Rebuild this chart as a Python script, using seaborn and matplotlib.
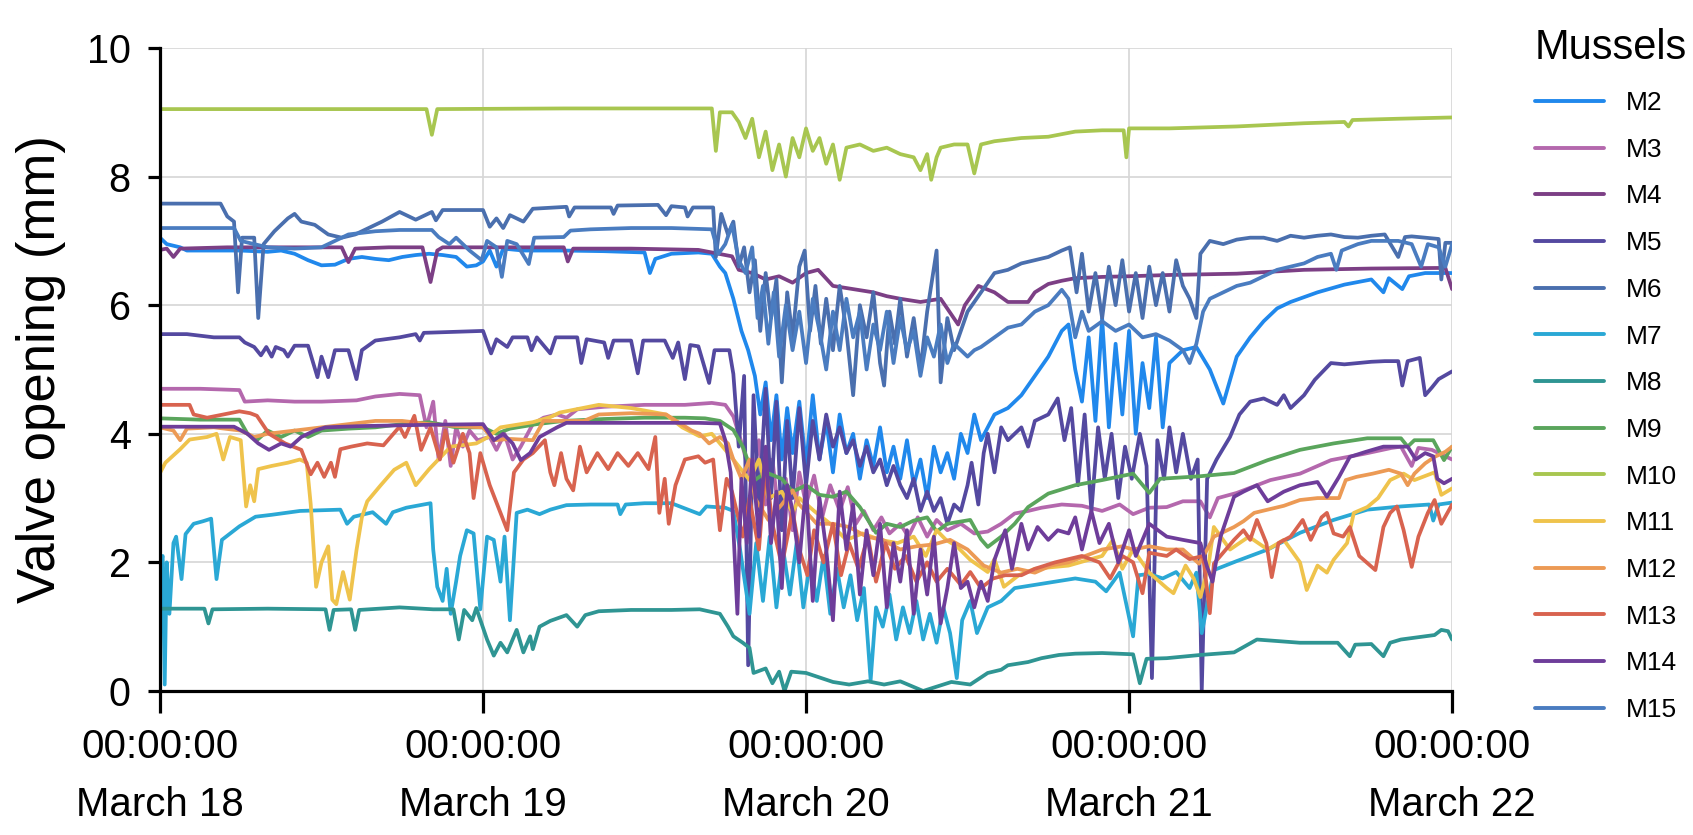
import matplotlib
matplotlib.use("Agg")
import matplotlib.pyplot as plt
import pandas as pd
import seaborn as sns

# ---------------- data (hour since March 18 00:00, valve opening mm) ----------------
MUSSELS = ["M2", "M3", "M4", "M5", "M6", "M7", "M8", "M9", "M10", "M11", "M12", "M13", "M14", "M15"]
COLORS = ["#2088ec", "#b468ad", "#7c3f85", "#5449a0", "#4a6fae", "#2aa8d5", "#2f9593", "#5aa55c",
          "#a8c650", "#efc34c", "#ec9a55", "#d8634f", "#6e3d9a", "#4a7cc0"]

TICK_HOURS = [0, 24, 48, 72, 96]
TICK_LABELS = ["00:00:00\nMarch 18", "00:00:00\nMarch 19", "00:00:00\nMarch 20",
               "00:00:00\nMarch 21", "00:00:00\nMarch 22"]
Y_TICKS = [0, 2, 4, 6, 8, 10]

M2 = [(0,7.05),(0.5,6.95),(1.5,6.9),(2,6.85),(4,6.85),(6,6.85),(8,6.83),(9,6.85),(10,6.8),(11,6.7),(12,6.62),(13,6.63),(14,6.72),(15,6.75),(16,6.72),(17,6.7),(18,6.75),(19,6.78),(20,6.8),(21,6.78),(22,6.75),(22.8,6.6),(23.5,6.62),(24,6.68),(24.5,6.85),(25,6.6),(25.5,6.88),(27,6.85),(30,6.85),(33,6.84),(36,6.82),(36.4,6.5),(36.8,6.72),(38,6.8),(40,6.82),(41,6.8),(41.6,6.6),(42,6.5),(42.6,6.1),(43.2,5.6),(43.7,5.3),(44.2,4.9),(44.6,4.3),(45,4.8),(45.4,3.9),(45.8,4.6),(46.2,3.6),(46.6,4.4),(47,3.7),(47.5,4.5),(48,3.5),(48.5,4.6),(49,3.6),(49.5,4.2),(50,3.4),(50.5,4.3),(51,3.7),(51.5,4.0),(52,3.3),(52.5,3.9),(53,3.5),(53.5,4.1),(54,3.4),(54.5,3.8),(55,3.3),(55.5,3.9),(56,3.2),(56.5,3.6),(57,3.0),(57.5,3.8),(58,3.4),(58.5,3.7),(59,3.3),(59.5,4.0),(60,3.7),(60.5,4.3),(61,3.9),(62,4.3),(63,4.4),(64,4.6),(65,4.9),(66,5.2),(67,5.6),(67.5,5.7),(68,5.0),(68.5,4.5),(69,5.5),(69.5,4.2),(70,5.8),(70.5,4.1),(71,5.4),(71.5,4.3),(72,5.6),(72.5,4.0),(73,5.1),(73.5,4.4),(74,5.5),(74.5,4.1),(75,5.1),(76,5.3),(77,5.35),(78,5.0),(79,4.47),(80,5.2),(81,5.5),(82,5.75),(83,5.95),(84,6.05),(86,6.2),(88,6.32),(90,6.4),(90.9,6.2),(91.3,6.42),(92.3,6.25),(92.8,6.45),(94,6.5),(96,6.5)]

M3 = [(0,4.7),(3,4.7),(5.9,4.68),(6.3,4.5),(8,4.52),(10,4.5),(12,4.5),(14.6,4.52),(16,4.58),(17.8,4.62),(19.3,4.6),(19.8,4.1),(20.3,4.5),(20.7,3.6),(21.2,4.2),(21.6,3.5),(22,4.1),(22.5,3.8),(23,4.05),(23.6,3.9),(24.5,3.95),(25,3.75),(25.6,4.0),(26.2,3.6),(26.8,3.8),(27.7,4.15),(28.5,4.25),(29.5,4.3),(30.2,4.25),(31,4.38),(33,4.42),(36,4.45),(39,4.45),(41,4.48),(42,4.45),(42.6,4.27),(43.3,3.8),(44,3.2),(44.5,3.9),(45,2.9),(45.5,3.6),(46,2.7),(46.5,3.3),(47,2.5),(47.5,3.4),(48,2.9),(48.6,3.35),(49.2,2.7),(49.8,3.2),(50.5,2.8),(51.1,3.17),(51.7,2.6),(52.3,2.8),(53,2.5),(53.6,2.7),(54.2,2.45),(55,2.6),(55.6,2.4),(56.3,2.7),(57,2.4),(57.7,2.66),(58.5,2.5),(59.5,2.6),(60.5,2.45),(61.5,2.48),(62.5,2.6),(63.5,2.76),(64.5,2.8),(65.5,2.85),(67,2.9),(68.5,2.88),(70,2.8),(71.3,2.9),(72.3,2.75),(73.5,2.85),(74.8,2.86),(76,2.95),(77.3,2.95),(78,2.7),(78.6,3.0),(80,3.08),(81.5,3.2),(82.5,3.28),(84.7,3.38),(87,3.59),(89.5,3.69),(91.5,3.78),(92.2,3.8),(93,3.5),(93.5,3.78),(94.5,3.75),(95.5,3.65),(96,3.6)]

M4 = [(0,6.86),(0.5,6.88),(1,6.75),(1.5,6.88),(5,6.9),(10,6.9),(13.5,6.9),(14,6.67),(14.5,6.88),(17,6.9),(19.5,6.9),(20.1,6.36),(20.6,6.85),(21,6.9),(25,6.9),(30,6.9),(30.3,6.68),(30.7,6.88),(35,6.88),(40,6.86),(41.5,6.8),(42.5,6.76),(43,6.55),(44,6.5),(45,6.4),(46,6.45),(47,6.35),(48,6.5),(48.9,6.55),(50,6.3),(51.5,6.25),(53,6.2),(54,6.14),(55,6.1),(56.5,6.05),(58,6.1),(59.3,5.7),(59.8,6.0),(60.8,6.3),(62,6.2),(63,6.05),(64.5,6.05),(65,6.2),(66,6.33),(67,6.38),(68,6.42),(70,6.44),(72,6.45),(75,6.47),(80,6.49),(85,6.55),(90,6.57),(95.5,6.58),(96,6.25)]

M5 = [(0,5.55),(2,5.55),(4,5.5),(5.9,5.5),(6.3,5.42),(7,5.35),(7.5,5.22),(7.9,5.35),(8.3,5.2),(8.6,5.35),(9.2,5.3),(9.5,5.2),(10,5.37),(11,5.37),(11.7,4.88),(12,5.2),(12.5,4.88),(13,5.3),(14,5.3),(14.6,4.85),(15,5.3),(16,5.45),(17.8,5.5),(19,5.55),(19.3,5.45),(19.6,5.57),(24,5.6),(24.6,5.25),(25,5.47),(25.8,5.35),(26.2,5.5),(27.3,5.5),(27.6,5.3),(28,5.5),(29,5.25),(29.4,5.5),(31,5.5),(31.3,5.1),(31.7,5.47),(33,5.42),(33.3,5.18),(33.7,5.45),(35,5.45),(35.5,4.94),(35.9,5.45),(37.5,5.45),(38.1,5.18),(38.5,5.42),(39,4.85),(39.4,5.38),(40,5.36),(40.8,4.79),(41.2,5.3),(42.3,5.3),(42.6,4.93),(43,3.8),(43.4,4.9),(43.7,0.4),(44.1,4.6),(44.5,2.8),(45,4.7),(45.4,3.0),(45.8,4.5),(46.2,2.5),(46.6,4.2),(47,3.0),(47.5,4.4),(48,3.2),(48.5,4.2),(49,3.6),(49.5,4.3),(50,3.8),(50.5,4.1),(51,3.7),(51.5,3.9),(52,3.5),(52.5,3.8),(53,3.4),(53.5,3.6),(54,3.2),(54.5,3.5),(55,3.2),(55.5,3.0),(56,3.3),(56.5,2.8),(57,3.1),(57.5,2.8),(58,3.0),(58.5,2.6),(59,2.9),(59.5,2.8),(60,3.2),(60.3,3.55),(60.8,2.9),(61.2,3.7),(61.5,4.0),(62,3.4),(62.5,4.1),(63,3.9),(64,4.1),(64.5,3.8),(65,4.2),(66,4.3),(66.7,4.55),(67.2,3.9),(67.7,4.4),(68.2,3.2),(68.7,4.3),(69.2,2.8),(69.7,4.1),(70.2,3.3),(70.7,4.0),(71.2,3.0),(71.7,3.8),(72.2,3.3),(72.8,4.0),(73.3,3.5),(73.7,0.2),(74.1,3.9),(74.6,3.3),(75,4.1),(75.5,3.4),(76,4.0),(76.6,3.3),(77.1,3.6),(77.4,0.0),(77.8,3.3),(78.5,3.6),(79.5,3.95),(80.2,4.3),(81,4.5),(82,4.55),(83,4.45),(83.5,4.6),(84,4.4),(85,4.6),(85.8,4.84),(87,5.1),(88,5.08),(89,5.1),(90,5.12),(91,5.13),(92,5.13),(92.3,4.75),(92.7,5.13),(93.6,5.18),(94,4.6),(94.5,4.72),(95,4.85),(96,4.97)]

M6 = [(0,7.58),(4.5,7.58),(5,7.38),(5.5,7.3),(5.8,6.2),(6.1,7.05),(7,7.05),(7.3,5.8),(7.7,6.95),(8.5,7.15),(9.5,7.35),(10,7.42),(10.5,7.3),(11.5,7.25),(12.5,7.1),(13.5,7.05),(14.5,7.1),(15.5,7.2),(16.5,7.3),(17.8,7.45),(19,7.33),(20.2,7.45),(20.5,7.32),(21,7.48),(24,7.48),(24.5,7.22),(25,7.35),(25.5,7.2),(26,7.4),(27,7.3),(27.7,7.5),(30.2,7.53),(30.4,7.38),(30.8,7.52),(33.5,7.52),(33.7,7.42),(34,7.55),(37,7.56),(37.6,7.4),(38,7.54),(39,7.52),(39.2,7.38),(39.6,7.52),(41.1,7.52),(41.3,6.75),(41.7,7.42),(42.2,7.1),(42.6,7.3),(43,6.6),(43.4,6.9),(43.8,6.2),(44.2,6.7),(44.6,5.6),(45,6.5),(45.4,5.8),(45.8,6.4),(46.2,4.8),(46.6,6.2),(47,5.5),(47.5,6.6),(47.9,6.85),(48.3,5.6),(48.7,6.3),(49.1,5.4),(49.5,6.1),(50,5.3),(50.5,6.3),(51,5.6),(51.5,4.6),(52,6.0),(52.5,5.5),(53,6.2),(53.5,5.1),(53.8,4.75),(54.2,5.9),(54.6,5.4),(55,6.1),(55.5,5.2),(56,5.8),(56.5,5.0),(57,5.9),(57.7,6.85),(58,4.8),(58.5,5.8),(59,5.3),(59.5,5.6),(60,5.9),(61,6.2),(62,6.5),(63,6.55),(64,6.65),(65,6.7),(66,6.75),(67,6.85),(67.6,6.9),(68.1,6.2),(68.5,6.8),(69,5.9),(69.5,6.5),(70,5.8),(70.5,6.6),(71,6.0),(71.5,6.7),(72,5.9),(72.5,6.5),(73,5.8),(73.5,6.6),(74,6.0),(74.5,6.5),(75,5.9),(75.5,6.7),(76,6.3),(76.5,6.1),(77,5.8),(77.3,6.8),(78,7.0),(79,6.95),(80,7.02),(81,7.05),(82,7.05),(83,7.0),(84,7.08),(85,7.05),(86,7.08),(87,7.1),(88,7.06),(89,7.05),(90,7.08),(91,7.1),(92,6.75),(92.5,7.06),(93,7.07),(94,7.05),(95,7.03),(95.2,6.4),(95.5,6.97),(96,6.97)]

M7 = [(0,2.0),(0.2,2.1),(0.35,0.1),(0.5,2.0),(0.7,1.2),(1,2.3),(1.2,2.4),(1.6,1.74),(1.9,2.44),(2.5,2.6),(3.2,2.64),(3.8,2.68),(4.2,1.74),(4.6,2.35),(5.9,2.56),(7.1,2.71),(8.3,2.74),(10.4,2.8),(13.4,2.82),(13.9,2.6),(14.4,2.71),(15.8,2.78),(16.8,2.6),(17.3,2.78),(18.3,2.85),(20.1,2.92),(20.3,2.2),(20.6,1.62),(21,1.4),(21.3,1.9),(21.6,1.2),(22,1.7),(22.3,2.1),(22.8,2.5),(23.3,2.45),(23.8,1.27),(24.3,2.4),(24.8,2.35),(25.3,1.7),(25.6,2.4),(26,1.1),(26.5,2.77),(27.3,2.82),(28.2,2.75),(29,2.82),(30.2,2.89),(32,2.9),(34,2.9),(34.2,2.75),(34.6,2.9),(36,2.92),(38,2.92),(40.1,2.75),(40.6,2.87),(42,2.85),(42.6,2.8),(43.1,2.2),(43.8,1.2),(44.3,2.3),(44.8,1.4),(45.3,2.4),(45.8,1.3),(46.3,2.2),(46.8,1.5),(47.3,2.3),(47.8,1.3),(48.3,2.0),(48.8,1.4),(49.3,2.1),(49.8,1.2),(50.3,1.9),(50.8,1.3),(51.3,1.8),(51.8,1.1),(52.3,1.6),(52.8,0.17),(53.2,1.3),(53.7,1.0),(54.2,1.5),(54.7,0.8),(55.2,1.3),(55.7,0.9),(56.2,1.4),(56.7,0.8),(57.2,1.2),(57.7,0.75),(58.2,1.3),(58.7,0.9),(59.2,0.2),(59.6,1.1),(60.2,1.4),(60.7,0.9),(61.5,1.3),(62.5,1.4),(63.5,1.6),(65,1.65),(66.5,1.7),(68,1.75),(69.5,1.7),(70.3,1.55),(71.3,1.84),(72.3,0.85),(72.7,1.8),(73.5,1.82),(74.5,1.75),(75.5,1.85),(76.5,1.6),(77,1.84),(77.4,0.9),(78.3,1.88),(80,2.02),(82.3,2.2),(84.7,2.46),(87.2,2.66),(89.7,2.82),(92.2,2.87),(94.3,2.9),(94.6,2.65),(95,2.9),(96,2.93)]

M8 = [(0,1.28),(3.3,1.28),(3.6,1.05),(3.9,1.27),(8,1.28),(12.3,1.27),(12.6,0.95),(12.9,1.26),(14.2,1.27),(14.5,0.95),(14.8,1.26),(17.8,1.3),(20.3,1.27),(21.8,1.27),(22.2,0.8),(22.6,1.26),(23.2,1.1),(23.5,1.29),(24.3,0.8),(24.8,0.55),(25.3,0.75),(25.8,0.6),(26.5,0.95),(27,0.6),(27.5,0.85),(27.7,0.65),(28.2,1.0),(29,1.09),(30.2,1.18),(31,1.0),(31.6,1.18),(32.6,1.24),(35,1.26),(38,1.26),(40.1,1.27),(41.6,1.2),(42.2,1.0),(42.6,0.85),(43.3,0.75),(43.8,0.67),(44.1,0.28),(45,0.35),(45.5,0.12),(46,0.3),(46.4,0.0),(46.9,0.3),(48,0.28),(50,0.14),(51.2,0.1),(52.6,0.15),(53.8,0.1),(55,0.15),(56.7,0.0),(58.8,0.14),(60.2,0.1),(61.5,0.28),(62.5,0.33),(63,0.4),(64.5,0.45),(65.5,0.51),(66.8,0.56),(68,0.58),(70,0.59),(72.3,0.57),(72.8,0.12),(73.3,0.5),(74.8,0.51),(77.3,0.56),(79.8,0.6),(81.5,0.8),(84.7,0.75),(87.5,0.75),(88.4,0.54),(88.8,0.72),(90,0.73),(90.9,0.54),(91.4,0.75),(92.2,0.8),(94.7,0.87),(95.2,0.95),(95.7,0.93),(96,0.8)]

M9 = [(0,4.24),(3,4.22),(5.9,4.22),(6.5,4.0),(7.2,3.9),(8,4.05),(9,3.95),(10,4.05),(11,3.95),(12,4.05),(14,4.08),(16,4.1),(18,4.15),(20,4.18),(22,4.1),(24,4.1),(25,4.0),(26,4.08),(28,4.15),(30,4.2),(33,4.23),(36,4.25),(39,4.25),(40.5,4.24),(41.6,4.2),(42.6,4.06),(43.3,3.8),(44.2,3.28),(45,3.4),(46.2,3.3),(47,3.1),(48,3.2),(49,3.05),(50,3.02),(51,3.1),(52,2.86),(53.2,2.46),(54,2.6),(55,2.55),(56,2.65),(57,2.7),(57.7,2.48),(58.5,2.6),(60.2,2.66),(61,2.36),(61.5,2.24),(62.5,2.4),(63.5,2.6),(64.5,2.86),(66,3.07),(68,3.2),(70,3.28),(72.3,3.38),(73.5,3.08),(74.3,3.3),(77.3,3.34),(79.8,3.39),(82.3,3.59),(84.7,3.75),(87.2,3.85),(89.7,3.93),(92.2,3.93),(92.7,3.8),(93.2,3.9),(94.6,3.9),(95.4,3.59),(96,3.8)]

M10 = [(0,9.05),(10,9.05),(19.8,9.05),(20.2,8.65),(20.6,9.05),(30,9.06),(41,9.06),(41.3,8.4),(41.6,9.0),(42.5,9.0),(43,8.85),(43.5,8.6),(44,8.9),(44.5,8.3),(45,8.7),(45.5,8.1),(46,8.5),(46.5,8.0),(47,8.6),(47.5,8.3),(48,8.75),(48.5,8.4),(49,8.6),(49.5,8.2),(50,8.5),(50.5,7.95),(51,8.45),(52,8.5),(53,8.4),(54,8.45),(55,8.35),(56,8.3),(56.5,8.1),(57,8.35),(57.3,7.95),(57.7,8.3),(58,8.45),(59,8.5),(60,8.5),(60.5,8.05),(61,8.5),(62,8.55),(64,8.6),(66,8.62),(68,8.7),(70,8.72),(71.6,8.72),(71.8,8.3),(72,8.75),(75,8.75),(80,8.78),(85,8.83),(88,8.85),(88.3,8.78),(88.6,8.88),(92,8.9),(96,8.92)]

M11 = [(0,3.39),(0.4,3.55),(1.5,3.76),(2.2,3.91),(3.5,3.95),(4.2,4.0),(4.7,3.6),(5.2,3.95),(6.0,3.9),(6.4,2.87),(6.7,3.2),(7.0,2.95),(7.3,3.45),(8.3,3.5),(9.5,3.55),(10.4,3.6),(10.9,3.55),(11.2,2.9),(11.6,1.62),(12,2.0),(12.5,2.25),(12.8,1.42),(13.1,1.35),(13.6,1.85),(14.1,1.42),(14.6,2.19),(15,2.7),(15.4,2.95),(16.4,3.2),(17.4,3.44),(18.3,3.55),(19,3.2),(20,3.45),(21.6,3.8),(23.5,3.85),(24.3,3.94),(25.3,4.1),(27.7,4.18),(29,4.26),(29.7,4.33),(32.6,4.45),(35,4.4),(37.6,4.3),(38.8,4.1),(40.1,3.96),(41,4.0),(41.6,3.85),(42.6,3.6),(43.8,3.28),(44.5,3.6),(45.2,3.0),(46.2,3.1),(47,2.77),(47.5,3.0),(48.6,2.8),(49.8,2.6),(51,2.35),(52.2,2.45),(53.5,2.35),(54.8,2.3),(56,2.4),(56.9,2.1),(57.7,2.5),(58.4,2.35),(59.2,2.25),(60.2,2.04),(61.5,1.85),(62,2.05),(62.7,1.62),(63.8,1.8),(65,1.9),(67.5,1.95),(70,2.1),(70.8,2.35),(71.5,1.9),(72.3,2.2),(73.5,1.84),(74.8,1.6),(75.3,1.52),(76.2,1.95),(76.8,1.75),(77.3,1.46),(77.9,1.95),(78.3,2.55),(79.5,2.2),(80.9,2.4),(82.3,2.2),(83.5,2.35),(84.7,2.0),(85.2,1.57),(86,1.95),(86.7,1.84),(87.2,2.04),(88.2,2.3),(88.7,2.77),(89.7,2.86),(90.5,3.0),(91.4,3.28),(92.4,3.38),(93.2,3.28),(94.7,3.4),(95.2,3.05),(96,3.15)]

M12 = [(0,4.1),(1,4.05),(1.5,3.9),(2,4.08),(4,4.1),(6,4.05),(7,3.95),(8,4.0),(10,4.05),(12,4.1),(14,4.15),(16,4.2),(18,4.2),(20,4.15),(22,4.12),(24,4.1),(24.8,3.9),(26,3.92),(27.7,3.9),(28.5,4.2),(30,4.2),(31.5,4.2),(32.6,4.3),(35,4.32),(37.6,4.3),(39.5,4.05),(40.1,4.0),(40.8,3.85),(41.6,3.95),(42.2,3.85),(42.6,3.6),(43.2,3.3),(43.8,3.6),(44.2,3.0),(45.2,2.66),(46.2,2.9),(47,3.12),(47.5,2.9),(48.8,2.6),(50,2.6),(51.2,2.55),(52.5,2.4),(53.7,2.35),(55,2.2),(56.2,2.25),(57.5,2.28),(58.7,2.35),(60,2.2),(61.2,1.95),(62.5,1.84),(63.7,1.9),(65,1.84),(66.2,1.95),(67.5,2.0),(70,2.2),(71.5,2.25),(72.3,2.2),(73.5,2.25),(74.8,2.2),(76,2.2),(77.2,1.98),(77.8,2.2),(78.3,2.4),(79.8,2.55),(80.5,2.64),(81.3,2.77),(82.3,2.82),(83.5,2.88),(84.7,2.97),(86,3.0),(87.6,3.0),(88.1,3.28),(88.9,3.33),(90.1,3.38),(91.3,3.44),(92.2,3.38),(92.7,3.2),(93.2,3.38),(94,3.54),(94.7,3.64),(95.5,3.72),(96,3.8)]

M13 = [(0,4.45),(2.2,4.45),(2.5,4.3),(3.5,4.25),(4.7,4.3),(5.9,4.35),(6.7,4.32),(7.2,4.28),(8.1,4.0),(9.3,3.85),(10.5,3.75),(11.2,3.37),(11.7,3.55),(12.2,3.33),(12.7,3.55),(13,3.33),(13.4,3.76),(14.2,3.8),(15.4,3.85),(16.6,3.82),(17.8,4.11),(18.2,3.95),(18.9,4.28),(19.4,3.75),(20.1,4.1),(20.8,3.6),(21.2,4.05),(21.8,3.55),(22.5,4.0),(23,3.7),(23.3,3.0),(23.8,3.7),(24.5,3.2),(25.3,2.77),(25.8,2.5),(26.3,3.4),(27,3.6),(27.7,3.7),(28.6,3.9),(29,3.4),(29.3,3.2),(29.8,3.7),(30.2,3.3),(30.7,3.12),(31.2,3.8),(31.7,3.4),(32.5,3.7),(33.3,3.45),(34,3.7),(34.8,3.5),(35.5,3.7),(36.3,3.45),(36.8,3.95),(37.1,2.77),(37.5,3.3),(37.8,2.6),(38.3,3.2),(39,3.6),(40,3.65),(40.5,3.55),(41.1,3.6),(41.6,2.5),(42.1,3.3),(42.5,3.1),(43.3,2.4),(43.8,3.0),(44.5,2.2),(45,3.5),(45.5,2.6),(46.2,1.95),(47,2.8),(47.5,2.2),(48.1,1.8),(48.6,2.5),(49.3,2.0),(50,2.6),(50.6,1.8),(51.2,2.3),(51.9,1.9),(52.6,2.4),(53.2,1.7),(53.9,2.3),(54.6,1.9),(55.4,2.1),(56.2,1.7),(57,2.0),(57.7,1.7),(58.5,1.9),(59.5,1.65),(60.2,1.85),(61,1.6),(61.9,1.75),(62.8,1.8),(64,1.8),(65,1.9),(66.5,2.0),(68.5,2.1),(69.8,2.0),(70.6,1.75),(71.5,2.1),(72.3,2.0),(73,1.52),(73.5,2.15),(74.8,2.1),(75.5,2.2),(76.5,2.05),(77.5,2.1),(78,1.21),(78.3,1.98),(79.8,2.35),(80.5,2.5),(81,2.35),(81.5,2.66),(82.2,2.3),(82.6,1.77),(83.1,2.3),(84,2.4),(84.9,2.66),(85.5,2.35),(86.3,2.7),(86.7,2.77),(87.2,2.45),(87.9,2.4),(88.4,2.55),(89.1,2.1),(90.3,1.88),(90.9,2.55),(91.4,2.77),(91.9,2.87),(92.4,2.5),(93,1.93),(93.5,2.4),(94.2,2.77),(94.7,2.97),(95.2,2.6),(96,2.9)]

M14 = [(0,4.11),(5.5,4.11),(6.5,4.0),(7.3,3.85),(8.1,3.75),(9,3.85),(9.7,3.8),(10.5,3.95),(11.5,4.05),(12.3,4.1),(15,4.12),(20,4.14),(24,4.15),(24.8,3.9),(25.5,4.0),(26.2,3.85),(26.8,3.59),(27.5,3.7),(28.2,3.95),(29.5,4.1),(30.2,4.17),(35,4.17),(40,4.17),(41.6,4.16),(42,3.9),(42.4,3.4),(42.9,1.2),(43.2,3.3),(43.6,2.3),(44,3.6),(44.5,2.4),(45,3.8),(45.4,2.3),(45.8,3.1),(46.2,1.6),(46.6,3.2),(47,2.8),(47.5,2.0),(48,3.2),(48.5,1.4),(49,3.0),(49.5,2.2),(50,1.1),(50.5,3.1),(51,2.2),(51.5,2.9),(52,1.5),(52.5,2.5),(53,1.8),(53.5,2.6),(54,1.3),(54.5,2.3),(55,1.7),(55.5,2.5),(56,1.2),(56.5,2.2),(57,1.5),(57.5,2.4),(58,1.05),(58.5,1.6),(59,2.3),(59.5,1.6),(60,1.7),(60.5,1.3),(61,1.7),(61.5,1.4),(62,2.04),(62.8,2.5),(63.3,1.9),(64,2.6),(64.5,2.2),(65.2,2.55),(66,2.35),(66.7,2.5),(67.5,2.45),(68,2.7),(68.5,2.2),(69.2,2.8),(69.8,2.3),(70.5,2.6),(71.2,2.0),(72,2.5),(72.5,2.1),(73.5,2.6),(74.8,2.4),(76,2.35),(77.3,2.3),(77.8,1.93),(78.2,1.7),(78.8,2.4),(79.8,3.02),(80.5,3.1),(81.5,3.2),(82.3,2.95),(83.5,3.1),(84.7,3.2),(86,3.25),(86.7,3.02),(87.6,3.33),(88.4,3.64),(89.6,3.72),(90.9,3.8),(92.7,3.8),(93.3,3.6),(94,3.7),(94.6,3.65),(94.9,3.3),(95.4,3.23),(96,3.3)]

M15 = [(0,7.2),(5.5,7.2),(6,7.0),(7,6.95),(8,6.9),(10,6.88),(12,6.9),(13,7.0),(14,7.1),(16,7.15),(17.8,7.17),(20.2,7.17),(20.7,7.06),(21.5,6.95),(22,7.05),(23,6.85),(23.9,6.7),(24.3,7.0),(25,6.9),(25.4,6.44),(25.8,7.0),(26.5,6.95),(27.4,6.64),(27.8,7.05),(30,7.06),(30.5,7.16),(32,7.18),(35,7.2),(38,7.2),(41,7.18),(41.5,6.8),(42,6.95),(42.5,7.25),(43,6.7),(43.5,6.5),(44,6.9),(44.4,5.8),(44.8,6.3),(45.2,5.4),(45.6,6.2),(46,5.2),(46.5,6.0),(47,5.3),(47.5,5.9),(48,5.1),(48.5,6.1),(49,5.6),(49.5,5.0),(50,5.9),(50.5,5.3),(51,6.1),(51.5,5.5),(52,5.9),(52.5,5.0),(53,5.7),(53.5,5.3),(54,5.9),(54.5,5.1),(55,5.8),(55.5,5.3),(56,5.6),(56.5,4.9),(57,5.5),(57.5,5.2),(58,5.7),(58.5,5.1),(59,5.4),(60,5.2),(60.5,5.3),(61,5.35),(62,5.5),(63,5.65),(64,5.7),(65,5.9),(66,6.0),(67,6.24),(67.5,6.1),(68,5.5),(68.5,5.9),(69,5.6),(70,5.75),(71,5.6),(72,5.7),(73,5.5),(74,5.55),(75,5.45),(76,5.3),(76.5,5.1),(77,5.4),(77.5,5.9),(78,6.1),(79,6.2),(80,6.3),(81,6.35),(82,6.45),(83,6.55),(84,6.6),(85,6.65),(86,6.75),(87,6.8),(87.4,6.55),(87.8,6.85),(89,6.95),(90,7.0),(91,7.0),(92,7.0),(93,6.95),(93.7,6.6),(94.2,6.95),(95,6.9),(95.5,6.6),(96,6.95)]

SERIES = {"M2": M2, "M3": M3, "M4": M4, "M5": M5, "M6": M6, "M7": M7, "M8": M8, "M9": M9,
          "M10": M10, "M11": M11, "M12": M12, "M13": M13, "M14": M14, "M15": M15}

rows = []
for name in MUSSELS:
    for h, v in SERIES[name]:
        rows.append((name, h, v))
df = pd.DataFrame(rows, columns=["Mussel", "Hour", "Opening"])

# ---------------- plotting ----------------
sns.set_theme(style="white")
plt.rcParams["font.family"] = ["Liberation Sans", "DejaVu Sans"]
plt.rcParams["text.color"] = "black"
plt.rcParams["axes.labelcolor"] = "black"
plt.rcParams["xtick.color"] = "black"
plt.rcParams["ytick.color"] = "black"

fig = plt.figure(figsize=(16.93, 8.35), dpi=100)
ax = fig.add_axes([0.0945, 0.1725, 0.7632, 0.7700])

sns.lineplot(data=df, x="Hour", y="Opening", hue="Mussel", hue_order=MUSSELS,
             palette=COLORS, estimator=None, sort=False, linewidth=2.7, ax=ax)

ax.set_xlim(0, 96)
ax.set_ylim(0, 10)
ax.set_xticks(TICK_HOURS)
ax.set_xticklabels(TICK_LABELS, linespacing=1.65)
ax.set_yticks(Y_TICKS)
ax.grid(True, color="#d6d6d6", linewidth=1.2)
ax.set_axisbelow(True)

for side in ["top", "right"]:
    ax.spines[side].set_visible(False)
for side in ["left", "bottom"]:
    ax.spines[side].set_color("black")
    ax.spines[side].set_linewidth(2.3)

ax.tick_params(axis="y", direction="out", length=9, width=2.3, colors="black",
               labelsize=28.5, pad=12, left=True)
ax.tick_params(axis="x", direction="out", length=16, width=2.3, colors="black",
               labelsize=29, pad=11, bottom=True)

ax.set_xlabel("")
ax.set_ylabel("Valve opening (mm)", fontsize=38, va="center")
ax.yaxis.set_label_coords(-0.092, 0.5)

handles, labels = ax.get_legend_handles_labels()
ax.get_legend().remove()
leg = ax.legend(handles, labels, title="Mussels", loc="upper left",
                bbox_to_anchor=(0.9067, 0.966), bbox_transform=fig.transFigure,
                frameon=False, fontsize=19, title_fontsize=30,
                handlelength=2.6, handletextpad=0.85, labelspacing=0.86,
                borderpad=0, borderaxespad=0, alignment="left")
for line in leg.get_lines():
    line.set_linewidth(2.8)

fig.savefig("out.png", dpi=100)
